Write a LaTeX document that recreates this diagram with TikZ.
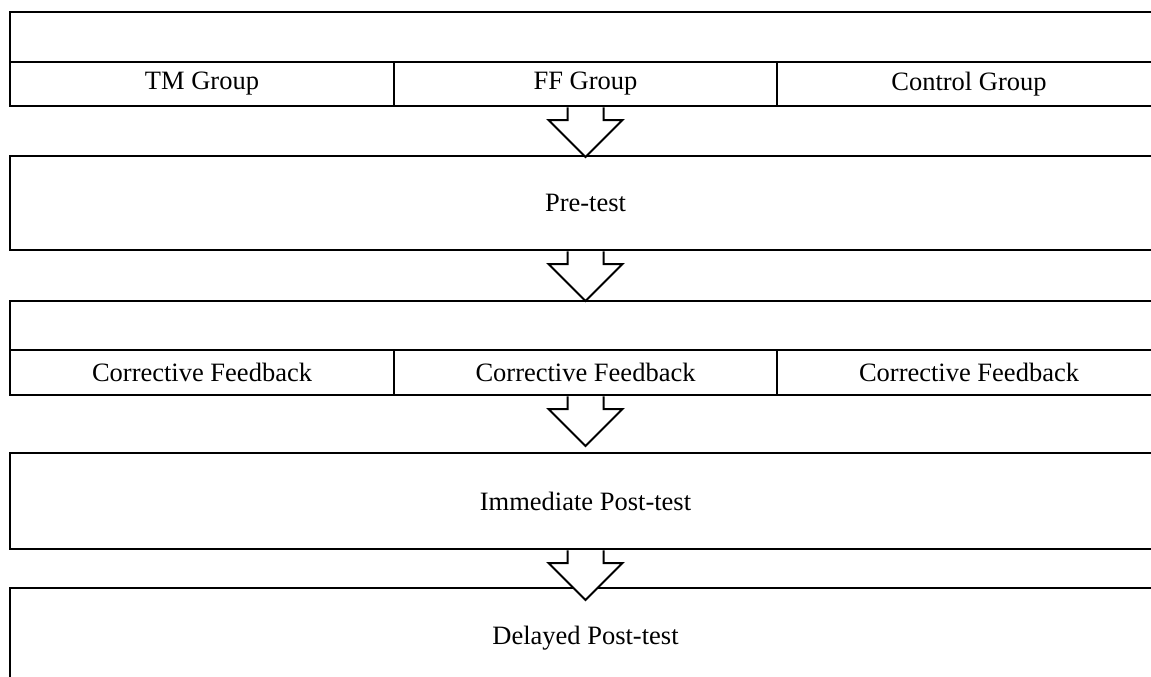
\documentclass[tikz,border=0pt]{standalone}
\usepackage{fontspec}
\setmainfont{Liberation Serif}
\usetikzlibrary{calc}
\tikzset{
  box/.style={draw, line width=2.8pt, rectangle, inner sep=0pt, outer sep=0pt,
    anchor=north west, font=\fontsize{26.5}{30}\selectfont},
  flowarrow/.style={draw, fill=white, line width=2pt, line join=miter},
}
\newcommand\flowdown[1]{%
  \draw[flowarrow] ($(#1.south)+(-18,-1.4)$) -- ($(#1.south)+(-18,-14)$)
    -- ($(#1.south)+(-37,-14)$) -- ($(#1.south)+(0,-51)$)
    -- ($(#1.south)+(37,-14)$) -- ($(#1.south)+(18,-14)$)
    -- ($(#1.south)+(18,-1.4)$);}
\begin{document}
\begin{tikzpicture}[x=1pt,y=1pt]
\clip (0,0) rectangle (1151,-677);
\fill[white] (0,0) rectangle (1151,-677);
% groups
\node[box, minimum width=1151pt, minimum height=50pt] (grp) at (10,-12) {};
\node[box, minimum width=384pt, minimum height=44pt] (tm) at (10,-62) {\raisebox{-2pt}{TM Group}};
\node[box, minimum width=383pt, minimum height=44pt] (ff) at (394,-62) {\raisebox{-2pt}{FF Group}};
\node[box, minimum width=384pt, minimum height=44pt] (ctl) at (777,-62) {\raisebox{-2pt}{Control Group}};
% pre-test
\node[box, minimum width=1151pt, minimum height=94pt] (pre) at (10,-156) {Pre-test};
% corrective feedback
\node[box, minimum width=1151pt, minimum height=49pt] (cf) at (10,-301) {};
\node[box, minimum width=384pt, minimum height=45pt] (cfa) at (10,-350) {Corrective Feedback};
\node[box, minimum width=383pt, minimum height=45pt] (cfb) at (394,-350) {Corrective Feedback};
\node[box, minimum width=384pt, minimum height=45pt] (cfc) at (777,-350) {Corrective Feedback};
% post-tests
\node[box, minimum width=1151pt, minimum height=96pt] (imm) at (10,-453) {Immediate Post-test};
\node[box, minimum width=1151pt, minimum height=100pt] (del) at (10,-588) {Delayed Post-test};
% arrows
\flowdown{ff}
\flowdown{pre}
\flowdown{cfb}
\flowdown{imm}
\end{tikzpicture}
\end{document}
